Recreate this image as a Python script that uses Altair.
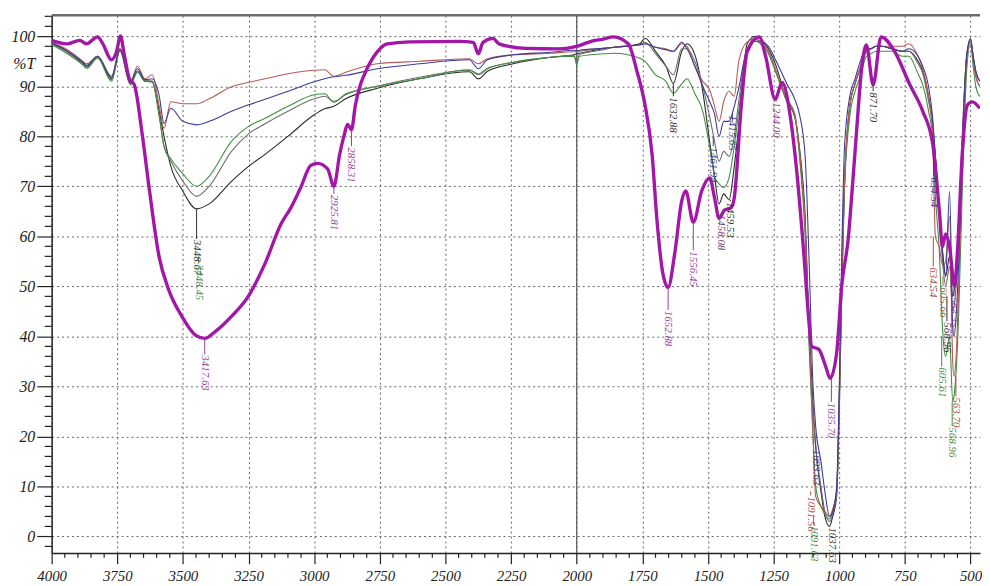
import altair as alt
import pandas as pd

# ---------------- data ----------------
WN_MAG = [4000, 3942, 3893, 3867, 3825, 3806, 3772, 3753, 3738, 3723,
          3704, 3685, 3655, 3629, 3591, 3554, 3504, 3451, 3417, 3376,
          3315, 3251, 3187, 3126, 3088, 3051, 3013, 2987, 2949, 2925,
          2903, 2885, 2873, 2858, 2843, 2824, 2798, 2760, 2722, 2635,
          2447, 2394, 2375, 2357, 2319, 2296, 2193, 2069, 1993, 1939,
          1902, 1860, 1804, 1770, 1740, 1713, 1694, 1672, 1652, 1627,
          1600, 1585, 1556, 1524, 1494, 1475, 1458, 1438, 1411, 1400,
          1373, 1351, 1305, 1281, 1244, 1218, 1184, 1162, 1135, 1116,
          1105, 1078, 1052, 1035, 1010, 991, 965, 950, 935, 916,
          897, 871, 841, 795, 731, 682, 644, 618, 607, 595,
          580, 561, 550, 531, 512, 493, 465]
T_MAG = [99.2, 98.5, 99.2, 98.5, 99.9, 98.6, 95.3, 96.9, 100.1, 96.2,
         91.5, 90.3, 80.4, 69.8, 56.0, 49.3, 44.0, 40.2, 39.6, 41.0,
         44.0, 48.0, 54.6, 62.5, 65.8, 69.8, 74.2, 74.6, 73.5, 70.0,
         76.4, 80.4, 82.4, 81.3, 86.3, 90.3, 93.6, 96.9, 98.5, 98.9,
         99.0, 98.8, 96.5, 98.8, 99.6, 98.5, 97.6, 97.5, 98.1, 99.1,
         99.4, 99.9, 98.5, 92.9, 86.3, 76.4, 63.0, 52.6, 49.8, 56.5,
         67.1, 69.1, 62.8, 69.1, 71.7, 67.7, 63.6, 65.2, 65.8, 67.7,
         86.3, 96.9, 99.9, 96.1, 87.4, 90.8, 83.0, 73.0, 56.5, 43.3,
         38.0, 37.4, 34.0, 31.6, 36.7, 50.0, 60.0, 70.0, 80.4, 93.0,
         98.3, 90.3, 99.9, 97.5, 90.3, 85.0, 78.4, 64.5, 57.9, 60.5,
         57.9, 50.0, 57.0, 77.0, 86.3, 86.9, 85.6]

WN_THIN = [4000, 3940, 3880, 3867, 3825, 3772, 3740, 3700, 3673, 3645,
           3617, 3590, 3572, 3546, 3500, 3448, 3400, 3315, 3250, 3187,
           3100, 3000, 2960, 2925, 2880, 2760, 2600, 2409, 2375, 2340,
           2242, 2100, 2010, 2000, 1990, 1900, 1858, 1760, 1740, 1700,
           1660, 1632, 1600, 1580, 1550, 1520, 1494, 1475, 1458, 1440,
           1420, 1400, 1383, 1351, 1320, 1300, 1270, 1240, 1200, 1170,
           1150, 1130, 1115, 1100, 1090, 1070, 1055, 1037, 1025, 1010,
           1000, 990, 980, 960, 940, 920, 897, 880, 860, 840,
           800, 760, 735, 700, 682, 660, 645, 634, 620, 605,
           595, 580, 568, 563, 555, 545, 530, 515, 500, 490,
           480, 465]

T_BLACK = [98.8, 97.0, 94.6, 94.0, 96.0, 91.5, 97.5, 90.6, 93.0, 91.0,
           91.0, 85.0, 80.0, 74.0, 69.0, 65.5, 66.5, 71.0, 74.0, 76.4,
           80.0, 84.3, 85.5, 86.0, 87.5, 89.6, 91.5, 92.9, 91.5, 93.0,
           94.5, 95.8, 96.3, 96.5, 96.6, 97.5, 97.8, 98.5, 99.6, 97.0,
           94.0, 90.6, 97.0, 98.5, 96.3, 89.0, 79.0, 72.0, 66.5, 68.5,
           67.3, 74.0, 82.0, 98.5, 100.0, 99.5, 97.5, 94.0, 87.0, 84.0,
           77.0, 64.0, 42.0, 26.0, 18.0, 9.0, 4.0, 2.0, 4.0, 8.0,
           25.0, 50.0, 70.0, 86.0, 90.5, 93.5, 97.0, 97.5, 98.0, 98.0,
           97.5, 97.0, 97.0, 95.0, 93.0, 88.0, 83.0, 76.0, 66.0, 56.0,
           52.0, 56.0, 48.0, 49.0, 52.0, 62.0, 82.0, 96.0, 99.5, 96.0,
           93.0, 91.0]
T_GRAY = [98.5, 96.8, 94.4, 93.8, 95.8, 91.3, 97.2, 90.5, 93.0, 91.2,
          91.0, 84.0, 78.0, 75.0, 71.0, 68.0, 70.0, 77.0, 80.5, 82.5,
          85.0, 87.5, 88.0, 87.0, 88.3, 90.0, 91.8, 93.2, 92.3, 93.5,
          94.8, 95.8, 96.2, 95.0, 96.4, 97.3, 97.8, 98.3, 98.8, 96.5,
          94.0, 92.3, 97.5, 97.5, 95.0, 90.0, 84.0, 79.0, 75.0, 77.0,
          76.0, 80.0, 87.0, 97.5, 99.5, 99.0, 97.0, 93.0, 87.5, 84.5,
          76.0, 62.0, 40.0, 25.0, 18.0, 10.0, 5.0, 3.0, 4.5, 9.0,
          27.0, 52.0, 71.0, 86.0, 90.5, 93.5, 97.0, 97.5, 98.0, 98.0,
          97.5, 97.0, 97.0, 94.5, 92.5, 87.0, 82.0, 75.0, 64.0, 54.0,
          50.0, 54.0, 45.0, 46.0, 50.0, 60.0, 80.0, 96.0, 99.0, 95.5,
          92.0, 90.0]
T_GREEN = [98.3, 96.5, 94.2, 93.6, 95.6, 91.0, 97.0, 90.3, 92.8, 91.0,
           90.8, 84.0, 78.0, 75.5, 72.5, 70.0, 72.0, 79.0, 82.0, 83.6,
           86.0, 88.3, 88.5, 86.8, 88.5, 90.0, 91.5, 93.3, 92.5, 93.6,
           94.8, 95.8, 96.0, 94.3, 96.0, 96.5, 96.6, 95.6, 95.0, 92.3,
           91.0, 88.6, 90.5, 91.5, 88.5, 85.0, 78.0, 72.0, 70.5, 69.8,
           71.7, 78.0, 85.0, 96.9, 99.0, 98.5, 96.5, 92.5, 87.0, 84.0,
           75.0, 60.0, 38.0, 20.0, 10.0, 6.0, 4.5, 3.5, 5.0, 9.0,
           28.0, 54.0, 70.0, 84.0, 89.0, 92.0, 96.0, 96.5, 97.0, 97.0,
           97.0, 96.0, 96.0, 92.5, 90.3, 85.0, 80.0, 68.0, 58.0, 40.0,
           36.0, 40.0, 27.0, 28.0, 33.0, 45.0, 72.0, 93.0, 98.5, 94.0,
           90.0, 88.0]
T_RED = [98.8, 97.3, 95.0, 94.5, 96.0, 92.0, 97.5, 91.0, 94.0, 91.5,
         92.3, 86.0, 81.6, 86.9, 86.5, 86.5, 87.5, 89.9, 90.8, 91.5,
         92.5, 93.2, 93.3, 92.0, 92.8, 94.5, 95.0, 95.5, 94.5, 95.5,
         96.3, 96.6, 96.9, 96.9, 97.0, 97.6, 97.8, 98.3, 98.5, 97.8,
         97.5, 97.0, 98.5, 98.0, 94.0, 91.0, 89.3, 86.0, 83.0, 87.0,
         89.0, 88.0, 95.0, 98.9, 99.5, 98.5, 97.0, 93.0, 87.5, 84.5,
         76.0, 62.0, 40.0, 20.0, 8.0, 6.0, 5.0, 4.0, 5.5, 9.0,
         27.0, 53.0, 71.0, 86.0, 90.5, 94.0, 97.5, 97.5, 98.0, 98.0,
         98.0, 98.0, 98.5, 96.0, 93.5, 88.0, 81.0, 60.0, 58.0, 54.0,
         55.0, 64.0, 35.0, 32.0, 36.0, 50.0, 78.0, 95.0, 99.0, 95.0,
         92.0, 90.0]
T_NAVY = [98.6, 97.0, 94.8, 94.2, 96.0, 91.8, 97.3, 90.8, 93.5, 91.3,
          91.5, 88.0, 82.6, 85.6, 83.0, 82.3, 83.0, 85.0, 86.3, 87.4,
          89.0, 90.9, 91.5, 91.9, 92.2, 93.5, 94.5, 95.3, 93.5, 95.3,
          96.3, 96.8, 97.2, 97.1, 97.2, 97.6, 97.8, 98.3, 98.5, 97.8,
          97.3, 97.0, 98.8, 97.5, 94.0, 90.0, 87.0, 84.4, 80.0, 83.0,
          83.0, 86.0, 89.6, 97.5, 99.0, 99.0, 98.0, 95.0, 90.5, 87.5,
          84.0, 76.0, 55.0, 30.0, 22.0, 15.0, 9.0, 4.0, 5.0, 10.0,
          30.0, 58.0, 78.0, 88.0, 91.5, 95.0, 97.5, 97.5, 98.0, 98.0,
          97.5, 97.0, 97.5, 96.0, 94.0, 90.0, 84.0, 76.0, 66.0, 56.0,
          52.0, 69.0, 42.0, 40.0, 44.0, 55.0, 80.0, 96.0, 99.5, 96.0,
          93.0, 91.0]

THIN_SERIES = {"black": T_BLACK, "gray": T_GRAY, "green": T_GREEN,
               "red": T_RED, "navy": T_NAVY}
THIN_COLORS = {"black": "#2a2a2a", "gray": "#6e6e6e", "green": "#3f8f3f",
               "red": "#b85a55", "navy": "#3c3c96"}
MAG_COLOR = "#a317a8"

# peak labels: text, wavenumber, %T of the peak, %T where text starts, colour key
LABEL_TEXT = ["3448.67", "3448.45", "3417.63", "2925.81", "2858.31", "1632.88",
              "1652.88", "1556.45", "1461.94", "1458.08", "1459.53", "1415.65",
              "1244.00", "1035.70", "1093.63", "1091.56", "1091.63", "1037.63",
              "871.70", "634.54", "634.54", "605.66", "605.61", "568.96",
              "563.35", "563.70", "568.96"]
LABEL_WN = [3448, 3440, 3417, 2925, 2858, 1632,
            1652, 1556, 1480, 1452, 1415, 1407,
            1240, 1030, 1090, 1109, 1098, 1029,
            871, 641, 642, 605, 610, 590,
            563, 556, 570]
LABEL_PEAK = [65.5, 56.0, 39.6, 70.0, 81.3, 90.6,
              49.8, 62.8, 80.0, 63.6, 67.3, 83.0,
              87.4, 31.6, 19.0, 9.0, 4.0, 2.0,
              90.3, 76.0, 60.0, 52.0, 40.0, 48.0,
              50.0, 32.0, 27.0]
LABEL_TOP = [59.5, 54.5, 36.4, 68.5, 78.0, 88.0,
             45.3, 57.2, 78.0, 64.5, 67.0, 84.4,
             87.0, 26.9, 17.5, 8.2, 2.3, 2.0,
             89.0, 72.0, 54.0, 50.0, 34.0, 43.0,
             48.0, 28.0, 22.0]
LABEL_KEY = ["black", "green", "mag", "mag", "mag", "black",
             "mag", "mag", "navy", "purple", "black", "navy",
             "mag", "mag", "navy", "red", "green", "black",
             "black", "navy", "red", "olive", "green", "black",
             "mag", "red", "green"]
LABEL_COLORS = {"black": "#333333", "green": "#3f8f3f", "mag": "#9a3d9c",
                "navy": "#3c3c96", "red": "#b34a4a", "purple": "#6a3d7a",
                "olive": "#8a6a30"}

X_MAJOR = [4000, 3750, 3500, 3250, 3000, 2750, 2500, 2250, 2000,
           1750, 1500, 1250, 1000, 750, 500]
X_MINOR = [v for v in range(500, 4001, 50) if v % 250 != 0]
Y_MAJOR = [0, 10, 20, 30, 40, 50, 60, 70, 80, 90, 100]
Y_MINOR = [v for v in range(-2, 105, 2) if v % 10 != 0]
SPLIT_AT = [2000]

# ---------------- frames ----------------
thin_rows = []
for name, vals in THIN_SERIES.items():
    for w, t in zip(WN_THIN, vals):
        thin_rows.append({"wn": w, "T": t, "series": name})
thin_df = pd.DataFrame(thin_rows)
mag_df = pd.DataFrame({"wn": WN_MAG, "T": T_MAG})
lab_df = pd.DataFrame({"text": LABEL_TEXT, "wn": LABEL_WN, "peak": LABEL_PEAK,
                       "top": LABEL_TOP, "key": LABEL_KEY})
lab_df["color"] = lab_df["key"].map(LABEL_COLORS)

W, H = 936, 542
FONT = "Liberation Serif"

xs = alt.Scale(domain=[4000, 464], nice=False, zero=False)
ys = alt.Scale(domain=[-3.3, 104.2], nice=False, zero=False)

x_axis = alt.Axis(values=X_MAJOR, format="d", title=None, labelFont=FONT,
                  labelFontStyle="italic", labelFontSize=15, labelColor="#222",
                  tickSize=11, tickColor="#222", tickWidth=1.2, domainColor="#222",
                  domainWidth=1.5, labelPadding=5, grid=True, gridDash=[2, 3],
                  gridColor="#666", gridWidth=1, labelFlush=False)
y_axis = alt.Axis(values=Y_MAJOR, title="%T", titleAngle=0, titleX=-28, titleY=49,
                  titleFont=FONT, titleFontStyle="italic", titleFontWeight="normal",
                  titleFontSize=16, titleColor="#222", titleAlign="center",
                  titleBaseline="middle",
                  labelFont=FONT, labelFontStyle="italic", labelFontSize=16,
                  labelColor="#222", tickSize=15, tickColor="#222", tickWidth=1.2,
                  domainColor="#222", domainWidth=1.5, labelPadding=2, grid=True,
                  gridDash=[2, 3], gridColor="#666", gridWidth=1)

base_grid = alt.Chart(mag_df).mark_line(opacity=0).encode(
    x=alt.X("wn:Q", scale=xs, axis=x_axis),
    y=alt.Y("T:Q", scale=ys, axis=y_axis),
)

split = alt.Chart(pd.DataFrame({"wn": SPLIT_AT})).mark_rule(
    color="#555", strokeWidth=1.2).encode(x=alt.X("wn:Q", scale=xs))

thin = alt.Chart(thin_df).mark_line(strokeWidth=1.1, clip=True,
                                    interpolate="monotone").encode(
    x=alt.X("wn:Q", scale=xs),
    y=alt.Y("T:Q", scale=ys),
    color=alt.Color("series:N", scale=alt.Scale(domain=list(THIN_COLORS.keys()),
                                                 range=list(THIN_COLORS.values())),
                    legend=None),
    order=alt.Order("wn:Q", sort="descending"),
)

mag = alt.Chart(mag_df).mark_line(strokeWidth=3.4, color=MAG_COLOR, clip=True,
                                  strokeJoin="round",
                                  interpolate="monotone").encode(
    x=alt.X("wn:Q", scale=xs),
    y=alt.Y("T:Q", scale=ys),
    order=alt.Order("wn:Q", sort="descending"),
)

leaders = alt.Chart(lab_df).mark_rule(strokeWidth=1).encode(
    x=alt.X("wn:Q", scale=xs),
    y=alt.Y("peak:Q", scale=ys),
    y2="top:Q",
    color=alt.Color("color:N", scale=None),
)

labels = alt.Chart(lab_df).mark_text(angle=90, align="left", baseline="middle",
                                     font=FONT, fontStyle="italic", fontSize=11,
                                     dx=1).encode(
    x=alt.X("wn:Q", scale=xs),
    y=alt.Y("top:Q", scale=ys),
    text="text:N",
    color=alt.Color("color:N", scale=None),
)

y_minor = alt.Chart(pd.DataFrame({"v": Y_MINOR})).mark_rule(
    color="#222", strokeWidth=1.2, clip=False).encode(
    y=alt.Y("v:Q", scale=ys), x=alt.value(-7), x2=alt.value(0))
x_minor = alt.Chart(pd.DataFrame({"v": X_MINOR})).mark_rule(
    color="#222", strokeWidth=1.2, clip=False).encode(
    x=alt.X("v:Q", scale=xs), y=alt.value(H), y2=alt.value(H + 5))

top_border = alt.Chart(pd.DataFrame({"a": [0]})).mark_rule(
    color="#6a6a6a", strokeWidth=2.5).encode(
    y=alt.value(0), x=alt.value(0), x2=alt.value(W))

chart = alt.layer(base_grid, split, thin, mag, leaders, labels, y_minor, x_minor,
                  top_border).properties(
    width=W, height=H,
    autosize=alt.AutoSizeParams(type="none"),
    padding={"left": 44, "top": 5, "right": 2, "bottom": 31},
    background="white",
).configure_view(stroke=None)

chart.save("out.html", embed_options={"renderer": "svg", "actions": False})
